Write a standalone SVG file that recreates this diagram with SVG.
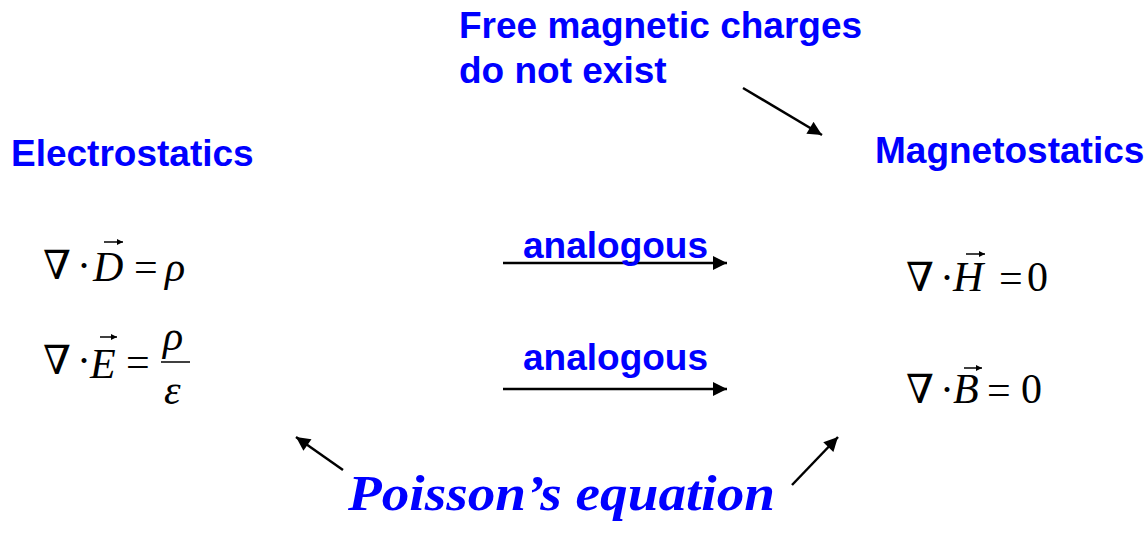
<svg xmlns="http://www.w3.org/2000/svg" width="1148" height="536" viewBox="0 0 1148 536">
<style>
.lbl{font-family:"Liberation Sans",Arial,sans-serif;font-weight:bold;font-size:37px;fill:#0000FF}
.m{font-family:"Liberation Serif","Times New Roman",serif;font-size:42px;fill:#000}
.nb{font-family:"DejaVu Serif","Liberation Serif",serif;font-size:40px;fill:#000}
.mi{font-family:"Liberation Serif","Times New Roman",serif;font-size:42px;font-style:italic;fill:#000}
.script{font-family:"Liberation Serif","Times New Roman",serif;font-style:italic;font-weight:bold;font-size:50px;fill:#0000FF}
.con{stroke:#000;stroke-width:2.5;fill:none}
.vec{stroke:#000;stroke-width:1.5;fill:none}
</style>
<defs>
<marker id="ah2" viewBox="0 0 10 10" refX="10" refY="5" markerWidth="16" markerHeight="14" markerUnits="userSpaceOnUse" orient="auto">
<path d="M0,0 L10,5 L0,10 z" fill="#000"/>
</marker>
<marker id="va" viewBox="0 0 10 10" refX="10" refY="5" markerWidth="8" markerHeight="6" markerUnits="userSpaceOnUse" orient="auto">
<path d="M0,0 L10,5 L0,10 z" fill="#000"/>
</marker>
</defs>

<g id="note-free-charges">
<text class="lbl" x="459" y="38">Free magnetic charges</text>
<text class="lbl" x="459" y="83">do not exist</text>
</g>

<g id="electrostatics">
<text class="lbl" x="11" y="166">Electrostatics</text>
</g>

<g id="magnetostatics">
<text class="lbl" x="875" y="163">Magnetostatics</text>
</g>

<g id="eq-divD">
<text class="nb" x="43" y="279">∇</text>
<text class="m" x="77" y="280">·</text>
<text class="mi" x="93" y="281">D</text>
<line class="vec" x1="104" y1="242" x2="123" y2="242" marker-end="url(#va)"/>
<text class="m" x="134" y="281">=</text>
<text class="mi" x="165" y="281">ρ</text>
</g>

<g id="eq-divE">
<text class="nb" x="43" y="374">∇</text>
<text class="m" x="77" y="375">·</text>
<text class="mi" x="90" y="378">E</text>
<line class="vec" x1="100" y1="337" x2="117" y2="337" marker-end="url(#va)"/>
<text class="m" x="126" y="376">=</text>
<text class="mi" x="163" y="350">ρ</text>
<line x1="161" y1="362" x2="190" y2="362" stroke="#000" stroke-width="1.5"/>
<text class="mi" x="164" y="404">ε</text>
</g>

<g id="eq-divH">
<text class="nb" x="906" y="291">∇</text>
<text class="m" x="940" y="292">·</text>
<text class="mi" x="953" y="291">H</text>
<line class="vec" x1="966" y1="254" x2="985" y2="254" marker-end="url(#va)"/>
<text class="m" x="999" y="292">=</text>
<text class="m" x="1027" y="291">0</text>
</g>

<g id="eq-divB">
<text class="nb" x="906" y="403">∇</text>
<text class="m" x="940" y="404">·</text>
<text class="mi" x="953" y="403">B</text>
<line class="vec" x1="964" y1="368" x2="982" y2="368" marker-end="url(#va)"/>
<text class="m" x="987" y="404">=</text>
<text class="m" x="1021" y="403">0</text>
</g>

<g id="poisson">
<text class="script" x="348" y="510" textLength="427" lengthAdjust="spacingAndGlyphs">Poisson’s equation</text>
</g>

<g id="connectors">
<line class="con" x1="503" y1="263" x2="727" y2="263" marker-end="url(#ah2)"/>
<line class="con" x1="503" y1="389" x2="727" y2="389" marker-end="url(#ah2)"/>
<line class="con" x1="743" y1="88" x2="822" y2="135" marker-end="url(#ah2)"/>
<line class="con" x1="343" y1="470" x2="296" y2="437" marker-end="url(#ah2)"/>
<line class="con" x1="792" y1="485" x2="838" y2="437" marker-end="url(#ah2)"/>
<text class="lbl" x="523" y="258">analogous</text>
<text class="lbl" x="523" y="370">analogous</text>
</g>
</svg>
